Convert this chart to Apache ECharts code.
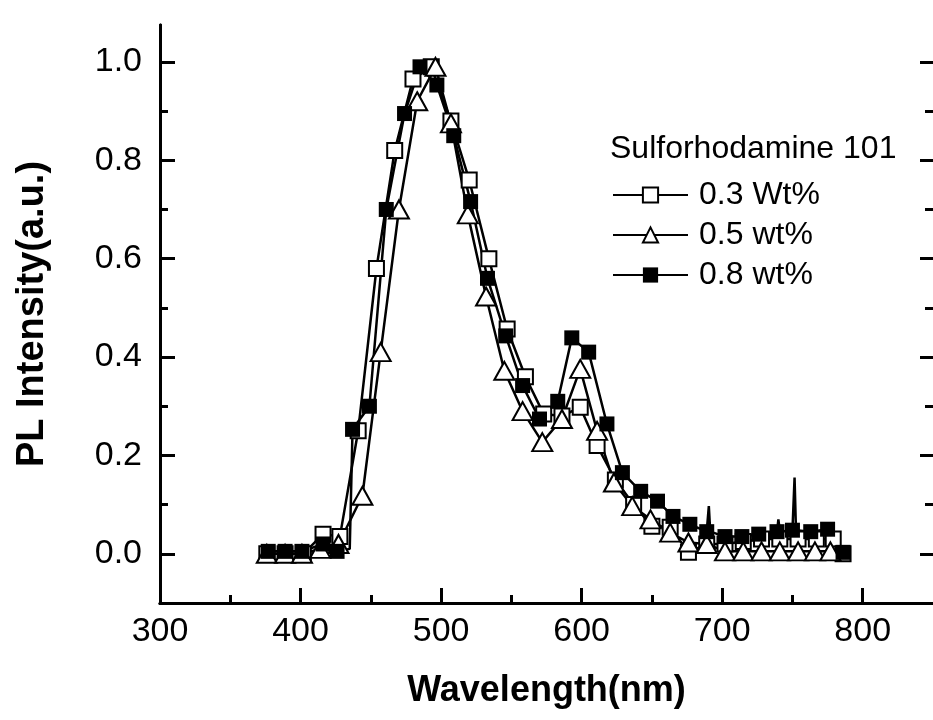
<!DOCTYPE html>
<html>
<head>
<meta charset="utf-8">
<script src="https://cdn.jsdelivr.net/npm/echarts@6/dist/echarts.min.js"></script>
<style>
html,body{margin:0;padding:0;background:#fff;}
#chart{width:933px;height:720px;}
</style>
</head>
<body>
<div id="chart"></div>
<script>
// ---- data ----
var xTicks = [300, 400, 500, 600, 700, 800];
var xMinorTicks = [350, 450, 550, 650, 750];
var yTicks = [0.0, 0.2, 0.4, 0.6, 0.8, 1.0];
var yMinorTicks = [0.1, 0.3, 0.5, 0.7, 0.9];

var seriesNames = ['0.3 Wt%', '0.5 wt%', '0.8 wt%'];
var legendTitle = 'Sulforhodamine 101';

var wl03 = [376, 389, 402, 416, 428, 441, 454, 467, 480, 493, 507, 520, 534, 547, 560, 573, 586, 599, 611, 624, 637, 650, 663, 676, 689, 702, 715, 728, 741, 754, 767, 779, 786];
var pl03 = [0.0, 0.0, 0.0, 0.04, 0.035, 0.25, 0.58, 0.82, 0.965, 0.99, 0.88, 0.76, 0.60, 0.457, 0.36, 0.284, 0.28, 0.298, 0.22, 0.15, 0.10, 0.056, 0.054, 0.003, 0.02, 0.02, 0.025, 0.03, 0.03, 0.03, 0.03, 0.03, 0.0];

var wl05 = [376, 389, 401, 414, 427, 444, 457, 470, 483, 496, 507, 519, 532, 545, 558, 572, 586, 599, 611, 623, 636, 649, 663, 676, 689, 702, 715, 728, 741, 754, 766, 777];
var pl05 = [0.0, 0.0, 0.0, 0.01, 0.02, 0.118, 0.41, 0.70, 0.92, 0.99, 0.875, 0.69, 0.523, 0.372, 0.29, 0.227, 0.274, 0.376, 0.25, 0.145, 0.097, 0.07, 0.043, 0.023, 0.02, 0.005, 0.005, 0.005, 0.005, 0.005, 0.005, 0.005];

var wl08 = [377, 389, 401, 416, 426, 435, 437, 449, 461, 474, 485, 497, 509, 521, 533, 546, 558, 570, 583, 593, 605, 618, 629, 642, 654, 665, 677, 689, 690.5, 691.5, 702, 714, 726, 739, 740, 741, 750, 751.5, 752.5, 763, 775, 786];
var pl08 = [0.005, 0.005, 0.005, 0.02, 0.005, 0.01, 0.253, 0.30, 0.70, 0.895, 0.99, 0.953, 0.85, 0.716, 0.56, 0.443, 0.342, 0.274, 0.31, 0.439, 0.41, 0.264, 0.165, 0.127, 0.107, 0.076, 0.06, 0.045, 0.097, 0.045, 0.035, 0.035, 0.04, 0.045, 0.07, 0.045, 0.048, 0.155, 0.048, 0.045, 0.05, 0.003];
var noMark08 = [435, 690.5, 691.5, 740, 741, 751.5, 752.5];

// ---- chart ----
function pairs(xs, ys, noMark) {
  return xs.map(function (x, i) {
    if (noMark && noMark.indexOf(x) >= 0) {
      return { value: [x, ys[i]], symbol: 'none' };
    }
    return [x, ys[i]];
  });
}

var FONT = '"Liberation Sans", Arial, sans-serif';
var black = '#000';

function xAx(ticks, len, showLabel) {
  return {
    type: 'value', min: 300, max: 850, position: 'bottom',
    axisLine: { show: true, onZero: false, lineStyle: { color: black, width: 3 } },
    axisTick: { show: true, inside: true, length: len, customValues: ticks, lineStyle: { color: black, width: 3 } },
    axisLabel: showLabel ? { show: true, customValues: ticks, fontSize: 34, color: black, fontFamily: FONT, margin: 12 } : { show: false },
    splitLine: { show: false },
    name: showLabel ? 'Wavelength(nm)' : '',
    nameLocation: 'middle', nameGap: 70,
    nameTextStyle: { fontSize: 36, fontWeight: 'bold', color: black, fontFamily: FONT }
  };
}
function yAx(ticks, len, showLabel, pos, isName, showLine) {
  return {
    type: 'value', min: -0.1, max: 1.075, position: pos,
    axisLine: { show: showLine, onZero: false, lineStyle: { color: black, width: 3 } },
    axisTick: { show: true, inside: true, length: len, customValues: ticks, lineStyle: { color: black, width: 3 } },
    axisLabel: showLabel ? { show: true, customValues: ticks, fontSize: 34, color: black, fontFamily: FONT, margin: 18,
      formatter: function (v) { return v.toFixed(1); } } : { show: false },
    splitLine: { show: false },
    name: isName ? 'PL Intensity(a.u.)' : '',
    nameLocation: 'middle', nameGap: 108, nameRotate: 90,
    nameTextStyle: { fontSize: 38, fontWeight: 'bold', color: black, fontFamily: FONT }
  };
}

var chart = echarts.init(document.getElementById('chart'), null, { renderer: 'canvas' });
chart.setOption({
  backgroundColor: '#fff',
  animation: false,
  grid: { left: 160, right: 0, top: 25, bottom: 117 },
  xAxis: [xAx(xTicks, 15, true), xAx(xMinorTicks, 8, false)],
  yAxis: [
    yAx(yTicks, 15, true, 'left', true, true),
    yAx(yMinorTicks, 8, false, 'left', false, true),
    yAx(yTicks, 13, false, 'right', false, false),
    yAx(yMinorTicks, 8, false, 'right', false, false)
  ],
  legend: {
    orient: 'vertical', left: 607, top: 174,
    itemWidth: 75, itemHeight: 19, itemGap: 8,
    data: seriesNames,
    textStyle: { fontSize: 32, color: black, fontFamily: FONT, lineHeight: 32, padding: [0, 0, 0, 6] }
  },
  graphic: [{
    type: 'text', left: 610, top: 133,
    style: { text: legendTitle, fontSize: 32, fill: black, fontFamily: FONT }
  }],
  series: [
    {
      name: seriesNames[0], type: 'line', data: pairs(wl03, pl03),
      symbol: 'emptyRect', symbolSize: 15,
      lineStyle: { color: black, width: 2.5 },
      itemStyle: { color: black, borderColor: black, borderWidth: 1.5 }
    },
    {
      name: seriesNames[1], type: 'line', data: pairs(wl05, pl05),
      symbol: 'emptyTriangle', symbolSize: [20, 18],
      lineStyle: { color: black, width: 2.5 },
      itemStyle: { color: black, borderColor: black, borderWidth: 1.5 }
    },
    {
      name: seriesNames[2], type: 'line', data: pairs(wl08, pl08, noMark08),
      symbol: 'rect', symbolSize: 15,
      lineStyle: { color: black, width: 2.5 },
      itemStyle: { color: black, borderWidth: 0 }
    }
  ]
});
</script>
</body>
</html>
